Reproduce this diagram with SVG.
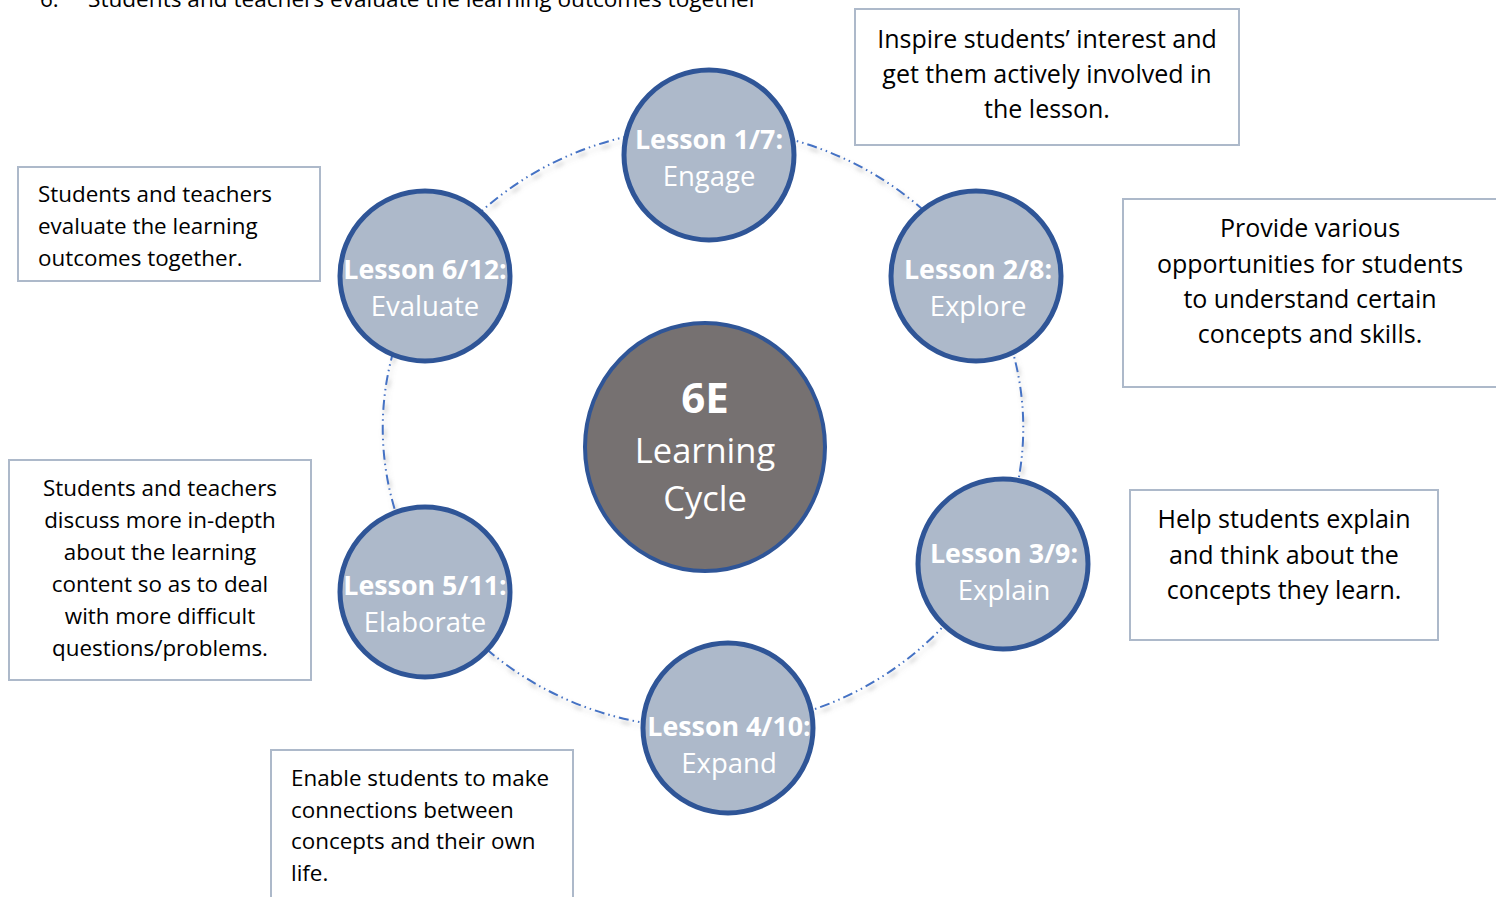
<svg xmlns="http://www.w3.org/2000/svg" width="1496" height="897" viewBox="0 0 1496 897">
<style>
.box{fill:#fff;stroke:#ADB9CA;stroke-width:2}
.bt{font-family:"Open Sans","Noto Sans",sans-serif;font-size:22.4px;fill:#000}
.br{font-size:25px}
.c{text-anchor:middle}
.node{fill:#ADB9CA;stroke:#2F5597;stroke-width:5}
.lb{font-family:"Open Sans","Noto Sans",sans-serif;font-size:26.8px;font-weight:bold;fill:#fff;text-anchor:middle}
.ln{font-family:"Open Sans","Noto Sans",sans-serif;font-size:27.5px;fill:#fff;text-anchor:middle}
.conn{fill:none;stroke:#4472C4;stroke-width:2;stroke-dasharray:10 4 1.5 4 1.5 4;filter:url(#sh)}
</style>
<defs>
<filter id="sh" x="-20%" y="-20%" width="140%" height="140%">
<feDropShadow dx="2" dy="4" stdDeviation="2" flood-color="#808080" flood-opacity="0.5"/>
</filter>
</defs>
<rect width="1496" height="897" fill="#fff"/>
<text class="bt" x="40" y="7" font-size="22.6">6.</text>
<text class="bt" x="88" y="7" style="font-size:22.6px">Students and teachers evaluate the learning outcomes together</text>
<g id="connectors">
<path class="conn" d="M709 128 A320 300 0 0 1 976 271"/>
<path class="conn" d="M976 271 A320 300 0 0 1 1003 533"/>
<path class="conn" d="M1003 533 A320 300 0 0 1 728 727"/>
<path class="conn" d="M728 727 A320 300 0 0 1 425 577"/>
<path class="conn" d="M425 577 A320 300 0 0 1 425 279"/>
<path class="conn" d="M425 279 A320 300 0 0 1 709 128"/>
</g>
<g id="center">
<ellipse cx="705" cy="447" rx="120" ry="124" fill="#767171" stroke="#2F5597" stroke-width="4"/>
<text x="705" y="413" font-family="Open Sans,Noto Sans,sans-serif" font-size="42" font-weight="bold" fill="#fff" text-anchor="middle">6E</text>
<text x="705" y="463" font-family="Open Sans,Noto Sans,sans-serif" font-size="34.5" fill="#fff" text-anchor="middle">Learning</text>
<text x="705" y="511" font-family="Open Sans,Noto Sans,sans-serif" font-size="34.5" fill="#fff" text-anchor="middle">Cycle</text>
</g>
<g id="engage"><circle class="node" cx="709" cy="155" r="85"/><text class="lb" x="709" y="149">Lesson 1/7:</text><text class="ln" x="709" y="186">Engage</text></g>
<g id="explore"><circle class="node" cx="976" cy="276" r="85"/><text class="lb" x="978" y="279">Lesson 2/8:</text><text class="ln" x="978" y="316">Explore</text></g>
<g id="explain"><circle class="node" cx="1003" cy="564" r="85"/><text class="lb" x="1004" y="563">Lesson 3/9:</text><text class="ln" x="1004" y="600">Explain</text></g>
<g id="expand"><circle class="node" cx="728" cy="728" r="85"/><text class="lb" x="729" y="736">Lesson 4/10:</text><text class="ln" x="729" y="773">Expand</text></g>
<g id="elaborate"><circle class="node" cx="425" cy="592" r="85"/><text class="lb" x="425" y="595">Lesson 5/11:</text><text class="ln" x="425" y="632">Elaborate</text></g>
<g id="evaluate"><circle class="node" cx="425" cy="276" r="85"/><text class="lb" x="425" y="279">Lesson 6/12:</text><text class="ln" x="425" y="316">Evaluate</text></g>
<g id="box-engage"><rect class="box" x="855" y="9" width="384" height="136"/>
<text class="bt br c" x="1047" y="48">Inspire students’ interest and</text>
<text class="bt br c" x="1047" y="83">get them actively involved in</text>
<text class="bt br c" x="1047" y="118">the lesson.</text></g>
<g id="box-explore"><rect class="box" x="1123" y="199" width="380" height="188"/>
<text class="bt br c" x="1310" y="237">Provide various</text>
<text class="bt br c" x="1310" y="273">opportunities for students</text>
<text class="bt br c" x="1310" y="308">to understand certain</text>
<text class="bt br c" x="1310" y="343">concepts and skills.</text></g>
<g id="box-explain"><rect class="box" x="1130" y="490" width="308" height="150"/>
<text class="bt br c" x="1284" y="528">Help students explain</text>
<text class="bt br c" x="1284" y="564">and think about the</text>
<text class="bt br c" x="1284" y="599">concepts they learn.</text></g>
<g id="box-expand"><rect class="box" x="271" y="750" width="302" height="160"/>
<text class="bt" x="291" y="786">Enable students to make</text>
<text class="bt" x="291" y="818">connections between</text>
<text class="bt" x="291" y="849">concepts and their own</text>
<text class="bt" x="291" y="881">life.</text></g>
<g id="box-elaborate"><rect class="box" x="9" y="460" width="302" height="220"/>
<text class="bt c" x="160" y="496">Students and teachers</text>
<text class="bt c" x="160" y="528">discuss more in-depth</text>
<text class="bt c" x="160" y="560">about the learning</text>
<text class="bt c" x="160" y="592">content so as to deal</text>
<text class="bt c" x="160" y="624">with more difficult</text>
<text class="bt c" x="160" y="656">questions/problems.</text></g>
<g id="box-evaluate"><rect class="box" x="18" y="167" width="302" height="114"/>
<text class="bt" x="38" y="202">Students and teachers</text>
<text class="bt" x="38" y="234">evaluate the learning</text>
<text class="bt" x="38" y="266">outcomes together.</text></g>
</svg>
